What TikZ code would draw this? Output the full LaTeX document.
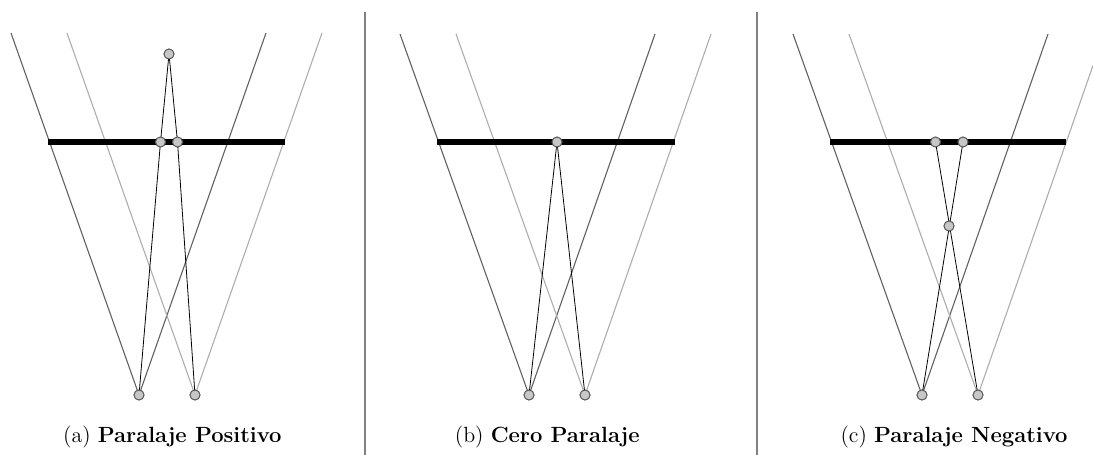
\documentclass[tikz,border=0pt]{standalone}
\begin{document}
\begin{tikzpicture}[x=0.5pt,y=-0.5pt,
  viewL/.style={draw=black!62,line width=0.55pt},
  viewR/.style={draw=black!32,line width=0.55pt},
  screenbar/.style={line width=2.6pt,black},
  ray/.style={draw=black,line width=0.4pt},
  dot/.style={circle,draw=black!65,fill=black!22,line width=0.45pt,minimum size=5pt,inner sep=0pt},
  divider/.style={draw=black!50,line width=0.6pt},
  captext/.style={anchor=base east,inner sep=0pt,font=\fontsize{11}{13}\selectfont}]
\useasboundingbox (0,0) rectangle (1093,455);
% ---------- panel a
\coordinate (a1) at (11,33); \coordinate (a2) at (266,33);
\coordinate (a3) at (67,33); \coordinate (a4) at (322,33);
\node[dot] (aeL) at (139,395) {}; \node[dot] (aeR) at (195,395) {};
\draw[viewL] (a1) -- (aeL.center) -- (a2);
\draw[viewR] (a3) -- (aeR.center) -- (a4);
\coordinate (as1) at (48,142); \coordinate (as2) at (285,142);
\draw[screenbar] (as1) -- (as2);
\node[dot] (aobj) at (169,54) {};
\node[dot] (apL) at (160.5,142) {}; \node[dot] (apR) at (177.5,142) {};
\draw[ray] (aeL.center) -- (apL.center) -- (aobj.center) -- (apR.center) -- (aeR.center);
\node[dot] at (aobj) {}; \node[dot] at (apL) {}; \node[dot] at (apR) {};
\node[dot] at (aeL) {}; \node[dot] at (aeR) {};
% ---------- panel b
\coordinate (b1) at (400,34); \coordinate (b2) at (655,34);
\coordinate (b3) at (456,34); \coordinate (b4) at (711,34);
\node[dot] (beL) at (529,395) {}; \node[dot] (beR) at (585,395) {};
\draw[viewL] (b1) -- (beL.center) -- (b2);
\draw[viewR] (b3) -- (beR.center) -- (b4);
\coordinate (bs1) at (437,142); \coordinate (bs2) at (675,142);
\draw[screenbar] (bs1) -- (bs2);
\node[dot] (bp) at (557,142) {};
\draw[ray] (beL.center) -- (bp.center) -- (beR.center);
\node[dot] at (bp) {}; \node[dot] at (beL) {}; \node[dot] at (beR) {};
% ---------- panel c
\coordinate (c1) at (793,34); \coordinate (c2) at (1048,34);
\coordinate (c3) at (849,34); \coordinate (c4) at (1093,65.5);
\node[dot] (ceL) at (922,395) {}; \node[dot] (ceR) at (978,395) {};
\draw[viewL] (c1) -- (ceL.center) -- (c2);
\draw[viewR] (c3) -- (ceR.center) -- (c4);
\coordinate (cs1) at (830,142); \coordinate (cs2) at (1066,142);
\draw[screenbar] (cs1) -- (cs2);
\node[dot] (cpL) at (935.5,142) {}; \node[dot] (cpR) at (963,142) {};
\node[dot] (cobj) at (949,226) {};
\draw[ray] (ceL.center) -- (cpR.center);
\draw[ray] (ceR.center) -- (cpL.center);
\node[dot] at (cpL) {}; \node[dot] at (cpR) {}; \node[dot] at (cobj) {};
\node[dot] at (ceL) {}; \node[dot] at (ceR) {};
% ---------- dividers
\coordinate (d1t) at (365,12); \coordinate (d1b) at (365,455);
\coordinate (d2t) at (757,12); \coordinate (d2b) at (757,455);
\draw[divider] (d1t) -- (d1b);
\draw[divider] (d2t) -- (d2b);
% ---------- captions
\node[captext] (capa) at (282,442) {(a) \textbf{Paralaje Positivo}};
\node[captext] (capb) at (640,442) {(b) \textbf{Cero Paralaje}};
\node[captext] (capc) at (1068,442) {(c) \textbf{Paralaje Negativo}};
\end{tikzpicture}
\end{document}
